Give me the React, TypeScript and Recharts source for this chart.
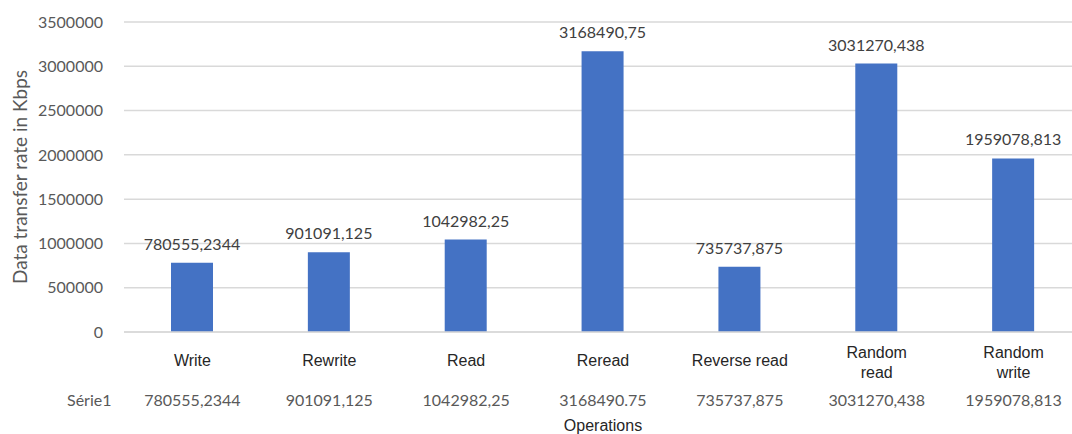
import React from 'react';
import { BarChart, Bar, XAxis, YAxis, CartesianGrid, LabelList, Label } from 'recharts';

const categories = ['Write', 'Rewrite', 'Read', 'Reread', 'Reverse read', 'Random\nread', 'Random\nwrite'];
const values = [780555.2344, 901091.125, 1042982.25, 3168490.75, 735737.875, 3031270.438, 1959078.813];
const barLabels = ['780555,2344', '901091,125', '1042982,25', '3168490,75', '735737,875', '3031270,438', '1959078,813'];
const tableLabels = ['780555,2344', '901091,125', '1042982,25', '3168490.75', '735737,875', '3031270,438', '1959078,813'];
const yTicks = [0, 500000, 1000000, 1500000, 2000000, 2500000, 3000000, 3500000];

const data = categories.map((name, i) => ({ name, value: values[i], label: barLabels[i], table: tableLabels[i] }));

const NUM_FONT = 'Lato, "Open Sans", sans-serif';
const CAT_FONT = '"Liberation Sans", Arial, sans-serif';

// category name (1 or 2 lines) plus the data table value under it
const CategoryTick = (props: any) => {
  const { x, y, payload, index } = props;
  const lines = String(payload.value).split('\n');
  return (
    <g>
      {lines.length === 1 ? (
        <text x={x} y={y + 28} textAnchor="middle" fontSize={16} fontFamily={CAT_FONT} fill="#262626">{lines[0]}</text>
      ) : (
        lines.map((ln, k) => (
          <text key={k} x={x} y={y + 20 + k * 20} textAnchor="middle" fontSize={16} fontFamily={CAT_FONT} fill="#262626">{ln}</text>
        ))
      )}
      <text x={x} y={y + 68} textAnchor="middle" fontSize={16} fontFamily={NUM_FONT} fill="#595959">
        {tableLabels[index]}
      </text>
    </g>
  );
};

const YTitle = (props: any) => {
  const { viewBox } = props;
  const cx = viewBox.x + 19;
  const cy = viewBox.y + viewBox.height / 2;
  return (
    <text x={cx} y={cy} transform={`rotate(-90 ${cx} ${cy})`} textAnchor="middle" dominantBaseline="central"
      fontSize={19} fontFamily={NUM_FONT} fill="#595959">
      Data transfer rate in Kbps
    </text>
  );
};

export default function App() {
  return (
    <div style={{ position: 'absolute', left: 0, top: 0, width: 1072, height: 434, overflow: 'hidden', background: '#fff' }}>
      <BarChart width={1090} height={434} data={data} margin={{ top: 22, right: 8, left: 0, bottom: 0 }}>
        <CartesianGrid horizontal vertical={false} stroke="#d9d9d9" strokeWidth={1.5} />
        <XAxis
          dataKey="name"
          height={102}
          tickLine={false}
          tickMargin={0}
          axisLine={{ stroke: '#d9d9d9', strokeWidth: 1.5 }}
          tick={<CategoryTick />}
          interval={0}
        >
          <Label value="Operations" position="insideBottom" offset={3} fontSize={16} fontFamily={CAT_FONT} fill="#262626" />
        </XAxis>
        <YAxis
          width={124}
          domain={[0, 3500000]}
          ticks={yTicks}
          axisLine={false}
          tickLine={false}
          tickMargin={15}
          tick={{ fontSize: 16, fontFamily: NUM_FONT, fill: '#595959' }}
        >
          <Label content={<YTitle />} />
        </YAxis>
        <Bar dataKey="value" fill="#4472C4" barSize={42} isAnimationActive={false}>
          <LabelList dataKey="label" position="top" offset={13} fontSize={16} fontFamily={NUM_FONT} fill="#404040" />
        </Bar>
      </BarChart>
      <div style={{ position: 'absolute', left: 67, top: 390, fontSize: 16, fontFamily: NUM_FONT, color: '#595959', lineHeight: '20px' }}>
        Série1
      </div>
    </div>
  );
}
